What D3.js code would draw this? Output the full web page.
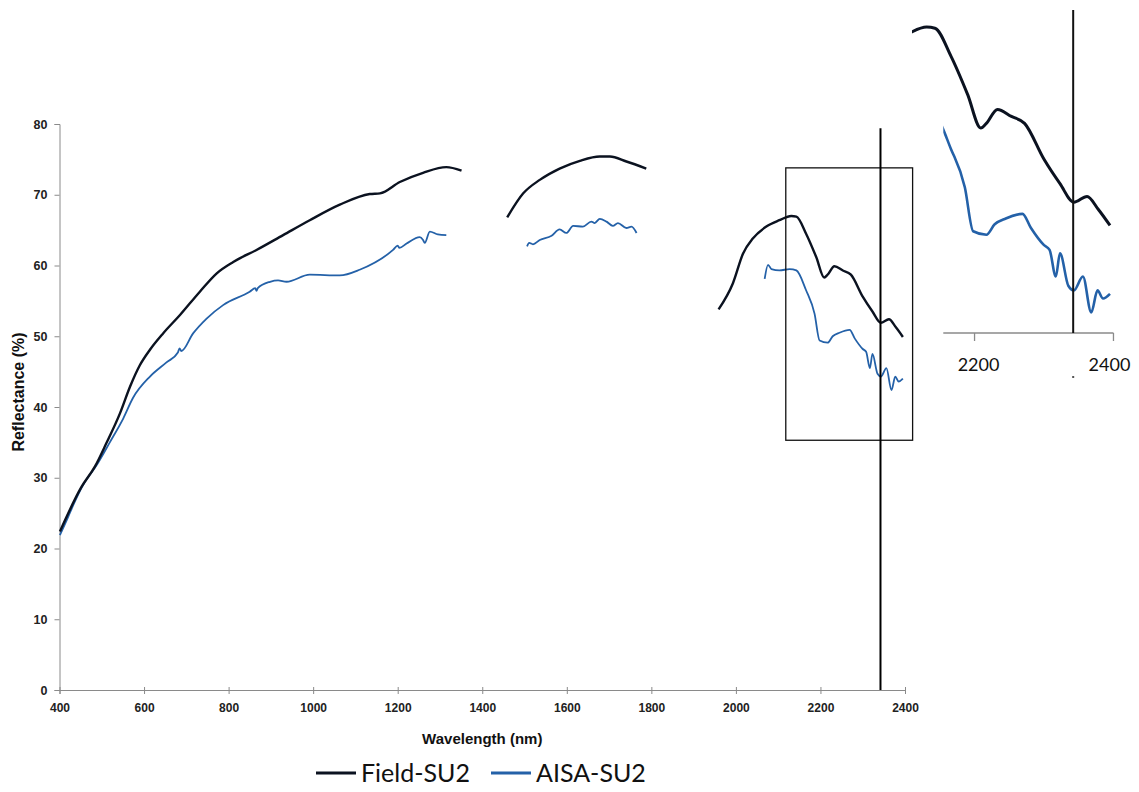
<!DOCTYPE html>
<html>
<head>
<meta charset="utf-8">
<script src="https://cdn.jsdelivr.net/npm/d3@7"></script>
<style>
  html, body { margin: 0; padding: 0; background: #fff; }
  svg { display: block; }
</style>
</head>
<body>
<svg id="chart" width="1139" height="792"></svg>
<script>
// Reflectance spectra: field spectrometer vs. AISA airborne, sample SU2.
// Each spectrum is split into segments around the atmospheric water bands.
const wavelengthTicks = [400, 600, 800, 1000, 1200, 1400, 1600, 1800, 2000, 2200, 2400];
const reflectanceTicks = [0, 10, 20, 30, 40, 50, 60, 70, 80];
const insetTicks = [2200, 2400];

const fieldVnir = [
  [401, 22.4], [452, 28.7], [484, 31.6], [511, 34.9], [543, 39.1], [567, 42.9],
  [590, 45.9], [614, 48.1], [645, 50.4], [685, 53.0], [732, 56.3], [772, 58.9],
  [811, 60.5], [866, 62.2], [929, 64.3], [992, 66.4], [1063, 68.6], [1134, 70.1],
  [1158, 70.2], [1205, 71.8], [1260, 73.1], [1315, 73.9], [1351, 73.4]
];
const fieldSwir1 = [
  [1459, 66.8], [1497, 70.2], [1536, 72.1], [1583, 73.7], [1631, 74.8],
  [1678, 75.4], [1702, 75.4], [1741, 74.7], [1788, 73.7]
];
const fieldSwir2 = [
  [1959, 53.8], [1993, 57.5], [2017, 61.7], [2040, 63.8], [2072, 65.5],
  [2103, 66.4], [2131, 67.0], [2143, 66.9], [2166, 64.5], [2190, 61.2],
  [2209, 58.3], [2217, 58.7], [2233, 59.9], [2253, 59.3], [2272, 58.7],
  [2300, 55.6], [2323, 53.5], [2343, 51.9], [2362, 52.4], [2378, 51.3], [2395, 49.9]
];

const aisaVnir = [
  [401, 21.9], [420, 24.4], [433, 26.2], [456, 29.0], [488, 31.8], [519, 35.0],
  [551, 38.4], [574, 41.3], [614, 44.3], [653, 46.3], [680, 47.7], [684, 48.3],
  [688, 47.9], [716, 50.4], [748, 52.5], [787, 54.4], [850, 56.3], [863, 56.8],
  [866, 56.4], [869, 56.8], [898, 57.7], [917, 57.9], [937, 57.7], [992, 58.7],
  [1063, 58.6], [1110, 59.4], [1189, 62.2], [1200, 62.8], [1204, 62.5],
  [1221, 63.1], [1252, 64.0], [1260, 63.6], [1264, 63.2], [1276, 64.8],
  [1295, 64.4], [1315, 64.3]
];
const aisaSwir1 = [
  [1506, 62.7], [1511, 63.2], [1520, 63.0], [1536, 63.6], [1564, 64.2],
  [1583, 65.1], [1599, 64.6], [1615, 65.6], [1638, 65.5], [1658, 66.2],
  [1666, 66.0], [1678, 66.6], [1694, 66.2], [1709, 65.6], [1721, 66.0],
  [1741, 65.3], [1753, 65.5], [1765, 64.6]
];
const aisaSwir2 = [
  [2068, 58.1], [2076, 60.1], [2084, 59.5], [2103, 59.3], [2127, 59.5],
  [2143, 59.3], [2166, 56.5], [2186, 53.2], [2198, 49.4], [2217, 49.1],
  [2229, 50.0], [2245, 50.5], [2269, 50.9], [2281, 49.7], [2300, 48.2],
  [2308, 47.8], [2317, 45.5], [2323, 47.5], [2335, 44.7], [2343, 44.3],
  [2356, 45.5], [2368, 42.4], [2377, 44.3], [2385, 43.6], [2395, 44.0]
];

// Absorption feature marker and the window enlarged in the inset
const markerWavelength = 2342;
const markerTop = 79.4;
const zoomWindow = { x0: 2118, x1: 2418, y0: 35.3, y1: 73.8 };
const insetStart = { field: 2110, aisa: 2155 };

const seriesNames = ["Field-SU2", "AISA-SU2"];
const seriesColors = ["#0b1220", "#2461a8"];

const svg = d3.select("#chart");

// ---------- main panel ----------
const x = d3.scaleLinear().domain([400, 2400]).range([59.5, 905]);
const y = d3.scaleLinear().domain([0, 80]).range([690, 124]);
const axisGray = "#8a8a8a";

const xAxis = svg.append("g")
  .attr("transform", `translate(0,${y(0)})`)
  .call(d3.axisBottom(x).tickValues(wavelengthTicks).tickSize(4).tickFormat(d3.format("d")));
xAxis.select(".domain").attr("stroke", axisGray);
xAxis.selectAll(".tick line").attr("stroke", axisGray).attr("y1", -3).attr("y2", 4);
xAxis.selectAll(".tick text")
  .attr("y", 13)
  .attr("font-family", "Liberation Sans, Arial, sans-serif")
  .attr("font-size", 12)
  .attr("font-weight", "bold")
  .attr("fill", "#222");

const yAxis = svg.append("g")
  .attr("transform", `translate(${x(400)},0)`)
  .call(d3.axisLeft(y).tickValues(reflectanceTicks).tickSize(5));
yAxis.select(".domain").attr("stroke", axisGray);
yAxis.selectAll(".tick line").attr("stroke", axisGray);
yAxis.selectAll(".tick text")
  .attr("x", -12)
  .attr("font-family", "Liberation Sans, Arial, sans-serif")
  .attr("font-size", 12.5)
  .attr("font-weight", "bold")
  .attr("fill", "#222");

svg.append("text")
  .attr("x", (x(400) + x(2400)) / 2)
  .attr("y", 744)
  .attr("text-anchor", "middle")
  .attr("font-family", "Liberation Sans, Arial, sans-serif")
  .attr("font-size", 15)
  .attr("font-weight", "bold")
  .attr("fill", "#111")
  .text("Wavelength (nm)");

svg.append("text")
  .attr("transform", "translate(24,392) rotate(-90)")
  .attr("text-anchor", "middle")
  .attr("font-family", "Liberation Sans, Arial, sans-serif")
  .attr("font-size", 16)
  .attr("font-weight", "bold")
  .attr("fill", "#111")
  .text("Reflectance (%)");

const mainLine = d3.line().x(d => x(d[0])).y(d => y(d[1])).curve(d3.curveMonotoneX);

const fieldSegments = [fieldVnir, fieldSwir1, fieldSwir2];
const aisaSegments = [aisaVnir, aisaSwir1, aisaSwir2];

svg.append("g").selectAll("path").data(aisaSegments).join("path")
  .attr("d", mainLine)
  .attr("fill", "none")
  .attr("stroke", seriesColors[1])
  .attr("stroke-width", 1.8)
  .attr("stroke-linejoin", "round");

svg.append("g").selectAll("path").data(fieldSegments).join("path")
  .attr("d", mainLine)
  .attr("fill", "none")
  .attr("stroke", seriesColors[0])
  .attr("stroke-width", 2.4)
  .attr("stroke-linejoin", "round");

// window outline around the enlarged region
svg.append("rect")
  .attr("x", x(zoomWindow.x0))
  .attr("y", y(zoomWindow.y1))
  .attr("width", x(zoomWindow.x1) - x(zoomWindow.x0))
  .attr("height", y(zoomWindow.y0) - y(zoomWindow.y1))
  .attr("fill", "none")
  .attr("stroke", "#111")
  .attr("stroke-width", 1.3);

// marker line
svg.append("line")
  .attr("x1", x(markerWavelength)).attr("x2", x(markerWavelength))
  .attr("y1", y(0)).attr("y2", y(markerTop))
  .attr("stroke", "#000")
  .attr("stroke-width", 2);

// ---------- inset ----------
const xi = d3.scaleLinear().domain([2209, 2395]).range([980.8, 1110]);
const yi = d3.scaleLinear().domain([40, 70]).range([340.3, -7.7]);
const insetAxisY = 333;

const defs = svg.append("defs");
defs.append("clipPath").attr("id", "clip-field")
  .append("rect").attr("x", xi(insetStart.field)).attr("y", 0)
  .attr("width", 1139 - xi(insetStart.field)).attr("height", insetAxisY);
defs.append("clipPath").attr("id", "clip-aisa")
  .append("rect").attr("x", xi(insetStart.aisa)).attr("y", 0)
  .attr("width", 1139 - xi(insetStart.aisa)).attr("height", insetAxisY);

const insetLine = d3.line().x(d => xi(d[0])).y(d => yi(d[1])).curve(d3.curveMonotoneX);

svg.append("path")
  .datum(aisaSwir2)
  .attr("d", insetLine)
  .attr("clip-path", "url(#clip-aisa)")
  .attr("fill", "none")
  .attr("stroke", seriesColors[1])
  .attr("stroke-width", 2.6)
  .attr("stroke-linejoin", "round");

svg.append("path")
  .datum(fieldSwir2)
  .attr("d", insetLine)
  .attr("clip-path", "url(#clip-field)")
  .attr("fill", "none")
  .attr("stroke", seriesColors[0])
  .attr("stroke-width", 3)
  .attr("stroke-linejoin", "round");

const insetAxis = svg.append("g");
insetAxis.append("line")
  .attr("x1", xi(insetStart.aisa)).attr("x2", xi(2400))
  .attr("y1", insetAxisY).attr("y2", insetAxisY)
  .attr("stroke", "#8a8a8a").attr("stroke-width", 1.3);
insetAxis.selectAll("line.tick").data(insetTicks).join("line")
  .attr("class", "tick")
  .attr("x1", d => xi(d)).attr("x2", d => xi(d))
  .attr("y1", insetAxisY).attr("y2", insetAxisY + 8)
  .attr("stroke", "#8a8a8a").attr("stroke-width", 1.3);
insetAxis.selectAll("text").data(insetTicks).join("text")
  .attr("x", d => xi(d) + (d === 2200 ? 4 : -4))
  .attr("y", insetAxisY + 38)
  .attr("text-anchor", "middle")
  .attr("font-family", "Lato, sans-serif")
  .attr("font-size", 18)
  .attr("fill", "#111")
  .text(d => d);

svg.append("line")
  .attr("x1", xi(markerWavelength)).attr("x2", xi(markerWavelength))
  .attr("y1", 10).attr("y2", insetAxisY)
  .attr("stroke", "#111")
  .attr("stroke-width", 2);
svg.append("rect")
  .attr("x", xi(markerWavelength) - 1).attr("y", 376)
  .attr("width", 2).attr("height", 2)
  .attr("fill", "#555");

// ---------- legend ----------
const legend = svg.append("g").attr("transform", "translate(316,773)");
const legendOffsets = [0, 175];
seriesNames.forEach((name, i) => {
  const g = legend.append("g").attr("transform", `translate(${legendOffsets[i]},0)`);
  g.append("line")
    .attr("x1", 0).attr("x2", 40)
    .attr("y1", 0).attr("y2", 0)
    .attr("stroke", seriesColors[i])
    .attr("stroke-width", 3);
  g.append("text")
    .attr("x", 45)
    .attr("y", 9)
    .attr("font-family", "Lato, sans-serif")
    .attr("font-size", 25)
    .attr("fill", "#111")
    .text(name);
});
</script>
</body>
</html>
